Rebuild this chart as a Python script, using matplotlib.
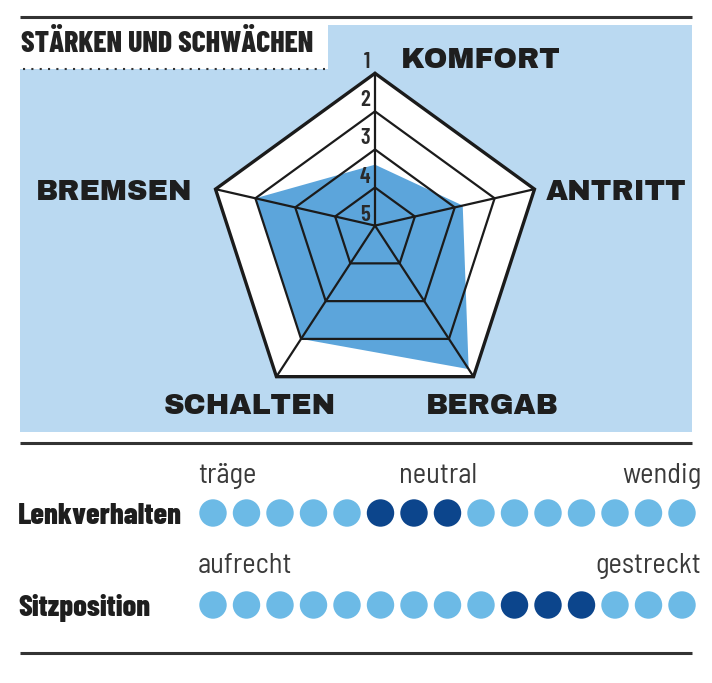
import matplotlib
matplotlib.use("Agg")
import matplotlib.pyplot as plt
import numpy as np
from matplotlib.patches import Polygon, Rectangle

# --- data -------------------------------------------------------------
axis_labels = ["KOMFORT", "ANTRITT", "BERGAB", "SCHALTEN", "BREMSEN"]
scores = [3.4, 2.8, 1.2, 2.0, 2.0]          # 1 = best, 5 = worst
grade_ticks = ["1", "2", "3", "4", "5"]

n_dots = 15
lenk_marked = [5, 6, 7]
sitz_marked = [9, 10, 11]
lenk_labels = ["träge", "neutral", "wendig"]
sitz_labels = ["aufrecht", "gestreckt"]

# fonts
cond = ["Barlow Condensed", "DejaVu Sans"]
semi = ["Barlow Semi Condensed", "DejaVu Sans"]
heavy = ["Archivo Black", "DejaVu Sans"]

# colours
panel = "#bad9f1"
fill_blue = "#5ca5db"
dot_light = "#6cbae6"
dot_dark = "#0c458c"
ink = "#1b1b1b"

fig = plt.figure(figsize=(7.12, 6.83), dpi=100)
ax = fig.add_axes([0, 0, 1, 1])
ax.set_xlim(0, 712)
ax.set_ylim(683, 0)
ax.axis("off")

# frame lines + panel
ax.plot([20, 692], [17, 17], color="#333333", lw=2.2, solid_capstyle="butt")
ax.add_patch(Rectangle((20, 25), 672, 407, color=panel, lw=0))
ax.add_patch(Rectangle((20, 25), 308, 44, color="white", lw=0))
ax.plot([23, 325], [69, 69], color="#333333", lw=1.5, ls=(0, (1, 3)))
ax.text(21, 44, "STÄRKEN UND SCHWÄCHEN", family=cond, weight=800,
        fontsize=21.5, color="#222222", va="center", ha="left")

# --- radar ------------------------------------------------------------
cx, cy, R = 375, 241, 167.7           # geometric centre of outer pentagon
hub = np.array([375, 225.6])           # where the spokes meet
ang = np.deg2rad(90 - 72 * np.arange(5))
outer = np.column_stack([cx + R * np.cos(ang), cy - R * np.sin(ang)])

def ring(s):
    return hub + s * (outer - hub)

def level(v):
    return (5 - v) / 4.0

ax.add_patch(Polygon(outer, closed=True, facecolor="white", edgecolor="none", zorder=2))
sc = np.array([level(v) for v in scores])[:, None]
data_pts = hub + sc * (outer - hub)
ax.add_patch(Polygon(data_pts, closed=True, facecolor=fill_blue, edgecolor="none", zorder=3))

for k, g in enumerate(grade_ticks):
    s = level(float(g))
    if s > 0:
        ax.add_patch(Polygon(ring(s), closed=True, fill=False, edgecolor=ink,
                             lw=2.4 if k == 0 else 1.6, joinstyle="miter", zorder=4))
    ty = hub[1] - s * (hub[1] - outer[0, 1])
    ax.text(370, ty - 1, g, family=cond, weight="semibold", fontsize=16.5,
            color="#2a2a2a", ha="right", va="bottom", zorder=5)
for p in outer:
    ax.plot([hub[0], p[0]], [hub[1], p[1]], color=ink, lw=1.6, zorder=4)

lab_kw = dict(family=heavy, fontsize=20.5, color="#1e1e1e", zorder=5)
ax.text(481, 61, axis_labels[0], ha="center", va="center", **lab_kw)
ax.text(616, 192, axis_labels[1], ha="center", va="center", **lab_kw)
ax.text(492, 406, axis_labels[2], ha="center", va="center", **lab_kw)
ax.text(250, 406, axis_labels[3], ha="center", va="center", **lab_kw)
ax.text(114, 192, axis_labels[4], ha="center", va="center", **lab_kw)

# --- lower section ----------------------------------------------------
ax.plot([20, 692], [443, 443], color="#333333", lw=2.2, solid_capstyle="butt")
ax.plot([20, 692], [653, 653], color="#333333", lw=2.2, solid_capstyle="butt")

xs = 213 + 33.5 * np.arange(n_dots)
for y, marked, name in [(513, lenk_marked, "Lenkverhalten"), (605, sitz_marked, "Sitzposition")]:
    cols = [dot_dark if i in marked else dot_light for i in range(n_dots)]
    ax.scatter(xs, np.full(n_dots, y), s=390, c=cols, edgecolors="none", zorder=3)
    ax.text(18, y + 3, name, family=cond, weight=800,
            fontsize=22, color="#1e1e1e", ha="left", va="center")

small_kw = dict(family=semi, fontsize=20.5, color="#3a3a3a", va="center")
ax.text(198, 476, lenk_labels[0], ha="left", **small_kw)
ax.text(438, 476, lenk_labels[1], ha="center", **small_kw)
ax.text(701, 476, lenk_labels[2], ha="right", **small_kw)
ax.text(198, 566, sitz_labels[0], ha="left", **small_kw)
ax.text(701, 566, sitz_labels[1], ha="right", **small_kw)

fig.savefig("out.png", dpi=100)
